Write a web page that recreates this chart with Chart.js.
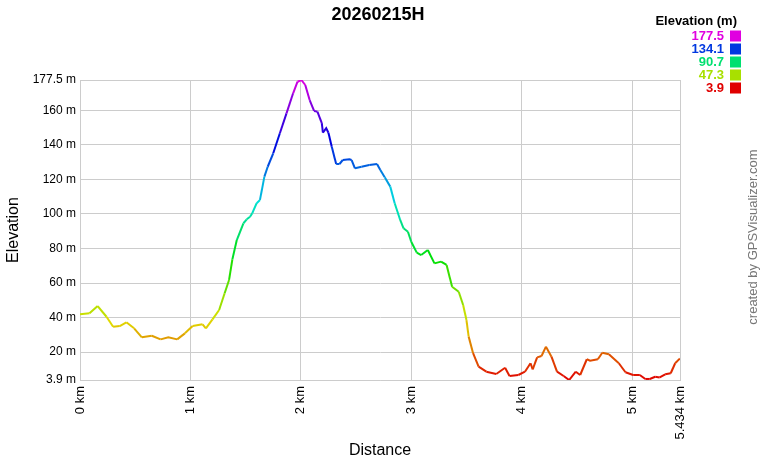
<!DOCTYPE html>
<html>
<head>
<meta charset="utf-8">
<script src="https://cdn.jsdelivr.net/npm/chart.js@4/dist/chart.umd.min.js"></script>
<style>
html,body{margin:0;padding:0;background:#fff;}
#wrap{position:relative;width:760px;height:460px;}
</style>
</head>
<body>
<div id="wrap"><canvas id="c" width="760" height="460"></canvas></div>
<script>
const chartTitle = "20260215H";
const distanceKm = [0,0.086,0.16,0.24,0.30,0.36,0.42,0.49,0.56,0.65,0.73,0.80,0.88,0.95,1.02,1.11,1.14,1.20,1.26,1.31,1.35,1.38,1.42,1.48,1.51,1.54,1.56,1.60,1.63,1.67,1.70,1.75,1.81,1.87,1.93,1.97,2.005,2.04,2.08,2.12,2.15,2.19,2.20,2.23,2.25,2.28,2.32,2.35,2.38,2.44,2.46,2.49,2.55,2.62,2.69,2.72,2.76,2.81,2.85,2.90,2.93,2.97,3.00,3.05,3.09,3.15,3.21,3.27,3.32,3.37,3.43,3.47,3.50,3.52,3.56,3.61,3.68,3.77,3.85,3.89,3.97,4.03,4.08,4.10,4.14,4.18,4.22,4.27,4.32,4.38,4.43,4.49,4.53,4.59,4.62,4.69,4.73,4.79,4.88,4.94,5.01,5.07,5.12,5.16,5.21,5.25,5.30,5.35,5.39,5.434];
const elevationM = [41.9,42.5,46.7,40.5,34.7,35.1,37.3,33.8,28.6,29.5,27.4,28.6,27.4,30.9,35.1,36.1,33.8,39.0,44.4,54.1,61.8,73.7,84.9,94.6,96.9,98.4,100.4,106.2,108.1,121.6,127.3,135.1,146.7,158.2,169.8,176.5,177.5,174.6,165.9,159.6,159.2,152.5,147.0,149.6,147.0,138.9,128.9,128.9,131.2,131.6,131.2,126.4,127.3,128.3,128.9,125.4,121.2,115.8,106.2,96.5,91.7,89.7,83.9,77.6,76.2,79.1,71.4,72.4,70.5,57.9,55.0,47.3,38.6,29.0,19.4,11.6,8.7,7.4,11.0,6.2,6.8,8.7,13.6,10.1,17.0,17.8,23.2,17.4,8.7,6.2,3.9,8.7,6.8,15.9,15.1,15.9,19.7,18.8,13.6,8.4,6.8,6.8,4.5,4.5,5.8,5.4,7.2,7.8,13.6,16.4];
const yTickValues = [3.9,20,40,60,80,100,120,140,160,177.5];
const xTickValues = [0,1,2,3,4,5,5.434];
const legendValues = [177.5,134.1,90.7,47.3,3.9];
const minEle = 3.9, maxEle = 177.5, maxDist = 5.434;

function eleColor(v){
  const t = Math.max(0, Math.min(1, (v - minEle) / (maxEle - minEle)));
  return 'hsl(' + (300 * t).toFixed(1) + ',100%,44%)';
}

const points = distanceKm.map((d,i)=>({x:d, y:elevationM[i]}));
const FONT = '"Liberation Sans", Arial, sans-serif';

const decor = {
  id:'decor',
  afterDraw(chart){
    const ctx = chart.ctx;
    ctx.save();
    ctx.fillStyle = '#000';
    ctx.font = 'bold 18px ' + FONT;
    ctx.textAlign = 'center';
    ctx.textBaseline = 'middle';
    ctx.fillText(chartTitle, 378, 15);
    ctx.font = 'bold 13px ' + FONT;
    ctx.textAlign = 'right';
    ctx.fillText('Elevation (m)', 737, 21);
    legendValues.forEach((v,i)=>{
      const y = 36 + i*13;
      const c = eleColor(v);
      ctx.fillStyle = c;
      ctx.fillText(String(v), 724, y);
      ctx.fillRect(730, y-5.5, 11, 11);
    });
    ctx.translate(753, 237);
    ctx.rotate(-Math.PI/2);
    ctx.fillStyle = '#777';
    ctx.font = '13px ' + FONT;
    ctx.textAlign = 'center';
    ctx.fillText('created by GPSVisualizer.com', 0, 0);
    ctx.restore();
  }
};

new Chart(document.getElementById('c'), {
  type:'line',
  data:{datasets:[{
    data: points,
    borderWidth: 2,
    pointRadius: 0,
    tension: 0,
    fill: false,
    borderColor: '#e00000',
    segment:{ borderColor: ctx => eleColor((ctx.p0.parsed.y + ctx.p1.parsed.y)/2) }
  }]},
  options:{
    responsive:false,
    animation:false,
    layout:{padding:{top:80,right:80,left:0,bottom:0}},
    plugins:{legend:{display:false}, title:{display:false}, tooltip:{enabled:false}},
    scales:{
      x:{
        type:'linear', min:0, max:maxDist,
        afterBuildTicks: s => { s.ticks = xTickValues.map(v=>({value:v})); },
        afterFit: s => { s.height = 80; },
        grid:{color:'#cccccc', drawTicks:false},
        border:{color:'#cccccc'},
        ticks:{
          autoSkip:false, minRotation:90, maxRotation:90, padding:6,
          color:'#000', font:{family:FONT, size:13},
          callback: v => v + ' km'
        },
        title:{display:true, text:'Distance', color:'#000', font:{family:FONT, size:16}, padding:{top:0,bottom:0}}
      },
      y:{
        type:'linear', min:minEle, max:maxEle,
        afterBuildTicks: s => { s.ticks = yTickValues.map(v=>({value:v})); },
        afterFit: s => { s.width = 80; },
        grid:{color:'#cccccc', drawTicks:false},
        border:{color:'#cccccc'},
        ticks:{
          autoSkip:false, padding:4,
          color:'#000', font:{family:FONT, size:12},
          callback: v => v + ' m'
        },
        title:{display:true, text:'Elevation', color:'#000', font:{family:FONT, size:16}, padding:4}
      }
    }
  },
  plugins:[decor]
});
</script>
</body>
</html>
